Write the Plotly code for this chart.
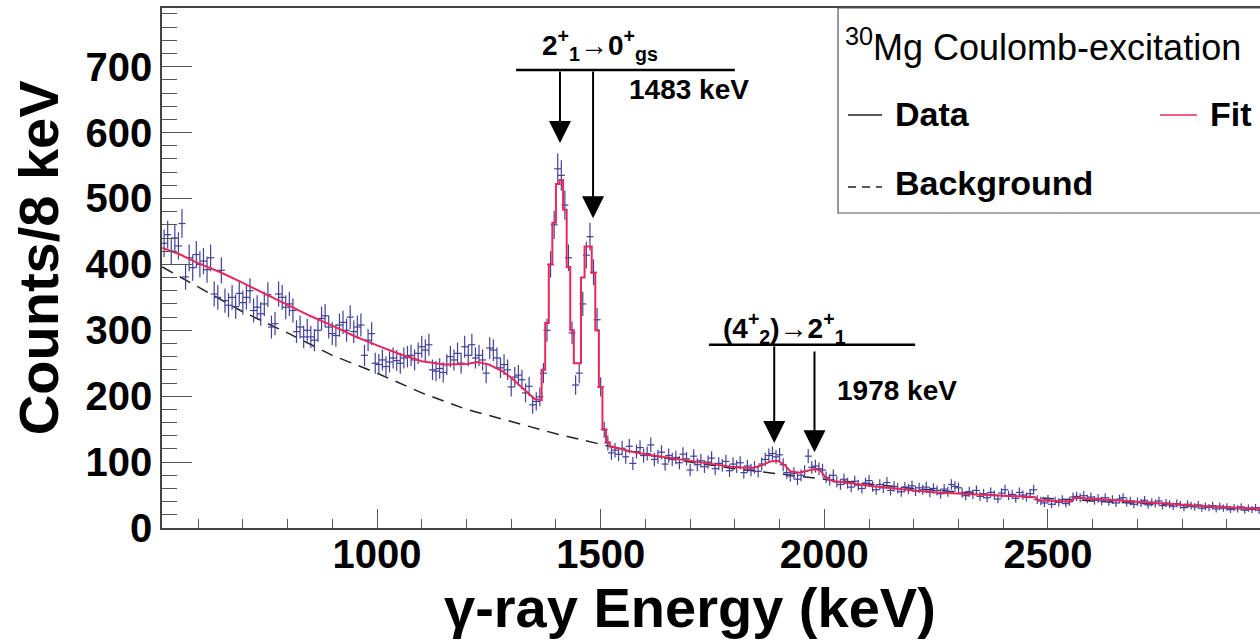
import numpy as np
import plotly.graph_objects as go

# ---- 30Mg gamma-ray spectrum, 8 keV bins starting at 520 keV ----
bin_low = 520
bin_width = 8
counts = [
    432, 445, 420, 440, 428, 462, 381, 410, 395, 415,
    400, 405, 392, 410, 355, 350, 391, 345, 338, 350,
    336, 356, 342, 350, 360, 330, 335, 325, 340, 354,
    305, 310, 355, 350, 335, 340, 330, 298, 305, 290,
    300, 290, 285, 300, 318, 322, 305, 295, 292, 308,
    312, 300, 320, 298, 305, 308, 262, 285, 295, 250,
    248, 255, 245, 252, 258, 254, 250, 258, 260, 262,
    255, 265, 275, 270, 278, 240, 238, 242, 236, 248,
    260, 255, 265, 250, 275, 262, 278, 258, 262, 255,
    235, 273, 270, 258, 243, 248, 240, 214, 229, 232,
    225, 205, 215, 187, 192, 199, 235, 300, 400, 460,
    545, 535, 490, 410, 296, 217, 235, 340, 414, 442,
    388, 316, 214, 149, 129, 114, 118, 112, 121, 108,
    124, 98, 116, 122, 110, 113, 126, 104, 108, 115,
    97, 110, 104, 107, 99, 112, 105, 88, 109, 96,
    102, 93, 100, 106, 90, 98, 95, 101, 87, 97,
    93, 99, 84, 94, 88, 92, 86, 97, 104, 110,
    113, 108, 111, 96, 84, 79, 83, 74, 80, 86,
    109, 92, 94, 90, 88, 77, 73, 80, 70, 66,
    74, 68, 62, 71, 65, 60, 68, 72, 63, 58,
    66, 61, 69, 57, 63, 60, 55, 62, 59, 64,
    56, 61, 58, 62, 54, 60, 57, 52, 59, 55,
    66, 63, 61, 53, 49, 55, 51, 57, 48, 52,
    46, 54, 50, 44, 53, 58, 49, 51, 45, 54,
    50, 47, 52, 58, 43, 41, 38, 44, 36, 41,
    39, 43, 37, 40, 47, 48, 46, 49, 44, 47,
    42, 45, 41, 46, 40, 43, 38, 44, 46, 39,
    41, 36, 40, 38, 42, 35, 39, 37, 41, 34,
    38, 36, 33, 37, 35, 31, 36, 34, 32, 35,
    30, 33, 31, 34, 29, 33, 30, 32, 28, 31,
    29, 32, 27, 30, 28, 31, 27,
]
energy = bin_low + bin_width * (np.arange(len(counts)) + 0.5)
errors = np.sqrt(counts)

# ---- fit function (smooth parts) ----
fit_low_e = [520, 560, 600, 650, 700, 750, 800, 850, 900, 950, 1000, 1050,
             1100, 1150, 1200, 1225, 1250, 1280, 1300, 1330, 1352, 1364]
fit_low_v = [425, 415, 402, 388, 372, 355, 338, 322, 307, 291, 277, 264,
             253, 248, 249, 252, 248, 238, 228, 210, 196, 194]

# fit through the 1483 keV doublet, per bin
fit_peak_e = [1364, 1372, 1380, 1388, 1396, 1404, 1412, 1420, 1428, 1436, 1444,
              1452, 1460, 1468, 1476, 1484, 1492, 1500, 1508, 1516, 1524]
fit_peak_v = [194, 240, 311, 400, 463, 522, 528, 483, 396, 300, 250,
              250, 380, 427, 427, 387, 300, 214, 150, 130, 124]

fit_high_e = [1524, 1560, 1600, 1650, 1700, 1750, 1800, 1840, 1860, 1880, 1896,
              1912, 1924, 1944, 1960, 1976, 1990, 2004, 2020, 2050, 2100, 2150,
              2200, 2250, 2300, 2350, 2400, 2470, 2480, 2550, 2560, 2650, 2750,
              2850, 2975]
fit_high_v = [124, 117, 112, 107, 102, 97, 92, 91, 95, 101, 102,
              95, 86, 84, 86, 89, 88, 76, 71, 69, 64, 60,
              57, 54, 52, 50, 49, 47, 42, 40, 46, 42, 37,
              33, 29]

# ---- background component ----
bkg_e = [520, 600, 700, 800, 900, 1000, 1100, 1200, 1300, 1400, 1500,
         1600, 1700, 1800, 1900, 2000, 2200, 2400, 2600, 2800, 2975]
bkg_v = [396, 366, 328, 296, 262, 235, 205, 180, 162, 143, 127,
         111, 100, 90, 82, 74, 60, 49, 41, 34, 28]

# ---- transitions marked with arrows ----
gs_arrows_e = [1409, 1483]
gs_arrow_tips = [584, 470]
gs_bar = (1311, 1800, 695)
exc_arrows_e = [1888, 1978]
exc_arrow_tips = [129, 115]
exc_arrow_tails = [278, 270]
exc_bar = (1742, 2203, 278)

DATA_COL = "#40409a"
FIT_COL = "#e8285a"
FONT = "Liberation Sans, Arial, Helvetica, sans-serif"

fig = go.Figure()

fig.add_trace(go.Scatter(
    x=bkg_e, y=bkg_v, mode="lines",
    line=dict(color="#222222", width=1.5, dash="12px,8px"),
    showlegend=False, hoverinfo="skip"))

fig.add_trace(go.Scatter(
    x=energy, y=counts, mode="markers",
    marker=dict(symbol="line-ew", size=5, line=dict(color=DATA_COL, width=1.2)),
    error_y=dict(type="data", array=errors, visible=True, color=DATA_COL,
                 thickness=1.2, width=0),
    showlegend=False))

for xe, ye, shape in [(fit_low_e, fit_low_v, "linear"),
                      (fit_peak_e, fit_peak_v, "hvh"),
                      (fit_high_e, fit_high_v, "linear")]:
    fig.add_trace(go.Scatter(
        x=xe, y=ye, mode="lines", line=dict(color=FIT_COL, width=2, shape=shape),
        showlegend=False, hoverinfo="skip"))

# level bars and arrows
for x0, x1, yb in [gs_bar, exc_bar]:
    fig.add_shape(type="line", x0=x0, x1=x1, y0=yb, y1=yb, xref="x", yref="y",
                  line=dict(color="black", width=2.5))

arrows = [(e, tip, gs_bar[2]) for e, tip in zip(gs_arrows_e, gs_arrow_tips)]
arrows += [(e, tip, tail) for e, tip, tail in zip(exc_arrows_e, exc_arrow_tips, exc_arrow_tails)]
for e, tip, tail in arrows:
    fig.add_annotation(x=e, y=tip, ax=e, ay=tail, xref="x", yref="y",
                       axref="x", ayref="y", text="", showarrow=True,
                       arrowhead=2, arrowwidth=2, arrowsize=2.2, arrowcolor="black")

lab_font = dict(family=FONT, size=28, color="black")
fig.add_annotation(x=1499, y=733, xref="x", yref="y", showarrow=False,
                   text="<b>2<sup>+</sup><sub>1</sub>→0<sup>+</sup><sub>gs</sub></b>",
                   font=lab_font, xanchor="center", yanchor="middle")
fig.add_annotation(x=1559, y=665, xref="x", yref="y", showarrow=False,
                   text="<b>1483 keV</b>", font=lab_font,
                   xanchor="left", yanchor="middle")
fig.add_annotation(x=1912, y=303, xref="x", yref="y", showarrow=False,
                   text="<b>(4<sup>+</sup><sub>2</sub>)→2<sup>+</sup><sub>1</sub></b>",
                   font=lab_font, xanchor="center", yanchor="middle")
fig.add_annotation(x=2024, y=209, xref="x", yref="y", showarrow=False,
                   text="<b>1978 keV</b>", font=lab_font,
                   xanchor="left", yanchor="middle")

# legend box
fig.add_shape(type="rect", xref="paper", yref="paper", x0=0.6157, x1=1.01,
              y0=0.6058, y1=1.0, line=dict(color="#555555", width=1.2),
              fillcolor="white", layer="above")
fig.add_annotation(x=0.6202, y=0.929, xref="paper", yref="paper", showarrow=False,
                   text="<sup>30</sup>Mg Coulomb-excitation",
                   font=dict(family=FONT, size=36, color="black"),
                   xanchor="left", yanchor="middle")
leg_font = dict(family=FONT, size=34, color="black")
fig.add_shape(type="line", xref="paper", yref="paper", x0=0.6248, x1=0.6557,
              y0=0.7942, y1=0.7942, line=dict(color="#222222", width=1.5))
fig.add_annotation(x=0.6658, y=0.797, xref="paper", yref="paper", showarrow=False,
                   text="<b>Data</b>", font=leg_font, xanchor="left", yanchor="middle")
fig.add_shape(type="line", xref="paper", yref="paper", x0=0.9089, x1=0.9426,
              y0=0.7942, y1=0.7942, line=dict(color=FIT_COL, width=1.5))
fig.add_annotation(x=0.9526, y=0.797, xref="paper", yref="paper", showarrow=False,
                   text="<b>Fit</b>", font=leg_font, xanchor="left", yanchor="middle")
fig.add_shape(type="line", xref="paper", yref="paper", x0=0.6248, x1=0.6557,
              y0=0.6558, y1=0.6558, line=dict(color="#222222", width=1.5, dash="8px,6px"))
fig.add_annotation(x=0.6658, y=0.6635, xref="paper", yref="paper", showarrow=False,
                   text="<b>Background</b>", font=leg_font, xanchor="left", yanchor="middle")

# axis titles
title_font = dict(family=FONT, size=56, color="black")
fig.add_annotation(x=-0.1129, y=0.519, xref="paper", yref="paper", showarrow=False,
                   text="<b>Counts/8 keV</b>", textangle=-90, font=title_font,
                   xanchor="center", yanchor="middle")
fig.add_annotation(x=0.481, y=-0.152, xref="paper", yref="paper", showarrow=False,
                   text="<b>γ-ray Energy (keV)</b>", font=title_font,
                   xanchor="center", yanchor="middle")

tick_font = dict(family=FONT, size=40, color="black", weight="bold")
fig.update_xaxes(range=[519.3, 2974], showgrid=False, zeroline=False,
                 showline=True, linecolor="#444444", linewidth=1.5, mirror=True,
                 ticks="inside", ticklen=19, tickwidth=1.2, tickcolor="#555555",
                 tick0=0, dtick=500, tickfont=tick_font, ticklabelstandoff=-10,
                 minor=dict(ticks="inside", ticklen=9, dtick=100, tickwidth=1.2,
                            tickcolor="#555555"))
fig.update_yaxes(range=[0, 789], showgrid=False, zeroline=False,
                 showline=True, linecolor="#444444", linewidth=1.5, mirror=False,
                 ticks="inside", ticklen=30, tickwidth=1.2, tickcolor="#555555",
                 tick0=0, dtick=100, tickfont=tick_font, ticklabelstandoff=0,
                 minor=dict(ticks="inside", ticklen=15, dtick=20, tickwidth=1.2,
                            tickcolor="#555555"))

fig.update_layout(width=1260, height=641, autosize=False,
                  margin=dict(l=162, r=0, t=8, b=113),
                  paper_bgcolor="white", plot_bgcolor="white", showlegend=False)

fig.write_html("out.html")
